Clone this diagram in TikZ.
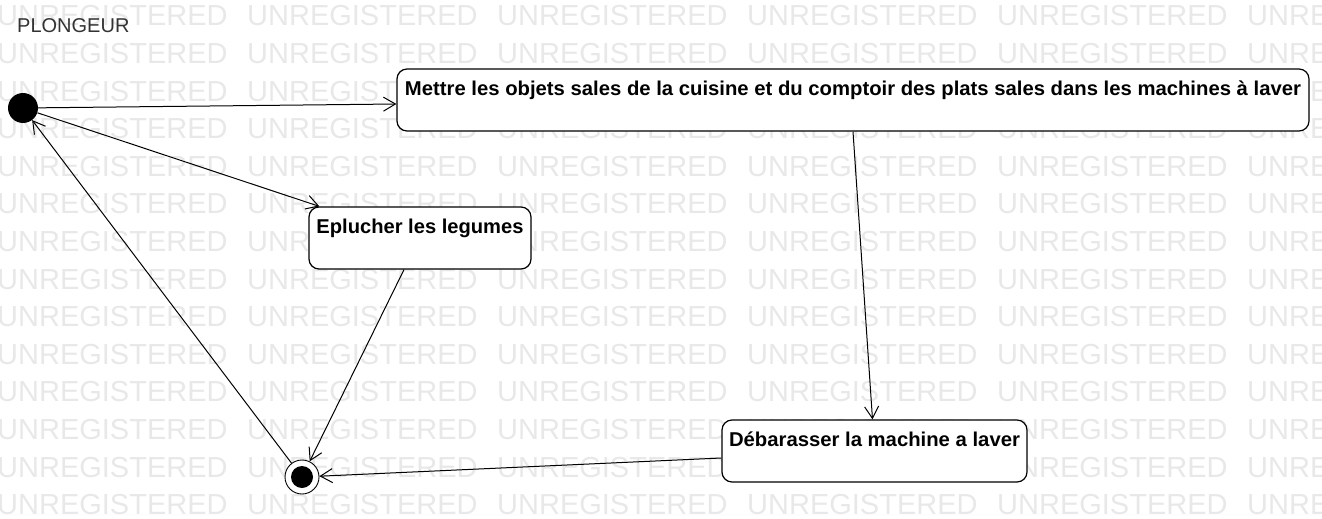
\documentclass[tikz,border=0pt]{standalone}
\usepackage{graphicx}
\usepackage{fontspec}
\setmainfont{Liberation Sans}
\usetikzlibrary{arrows.meta}

\begin{document}
\begin{tikzpicture}[x=1pt,y=-1pt,
      state/.style={draw, line width=1.2pt, rounded corners=10pt, minimum height=62pt, inner sep=0pt},
      statetext/.style={anchor=north, inner sep=0pt, font=\bfseries\fontsize{20}{24}\selectfont},
      trans/.style={line width=1pt, -{Straight Barb[length=12pt,width=14pt]}},
      wm/.style={anchor=west, inner sep=0pt, text=black!9, font=\fontsize{29}{34}\selectfont}]
      \useasboundingbox (0,0) rectangle (1322,519);
      \foreach \r in {0,...,13}
        \foreach \c in {0,...,5}
          \node [wm] (wm-\r-\c) at (-3+250*\c,16+37.6*\r) {UNREGISTERED};
      \node [anchor=west, inner sep=0pt, text=black!80, font=\fontsize{20}{24}\selectfont] (title) at (17,26) {PLONGEUR};
      \node [circle, fill=black, minimum size=30pt, inner sep=0pt] (init) at (23,108) {};
      \node [circle, draw, fill=white, line width=0.9pt, minimum size=34pt, inner sep=0pt] (final) at (302,477) {};
      \fill [black] (final) circle (11);
      \node [state, fill=white, minimum width=912pt] (mettre) at (853,100) {};
      \node [statetext] (mettre-t) at ([yshift=-12pt]mettre.north) {\resizebox{896pt}{\height}{Mettre les objets sales de la cuisine et du comptoir des plats sales dans les machines à laver}};
      \node [state, fill=white, minimum width=222pt] (eplucher) at (420,238) {};
      \node [statetext] (eplucher-t) at ([yshift=-12pt]eplucher.north) {\resizebox{207pt}{\height}{Eplucher les legumes}};
      \node [state, fill=white, minimum width=305pt] (debarasser) at (874.5,451) {};
      \node [statetext] (debarasser-t) at ([yshift=-12pt]debarasser.north) {\resizebox{291pt}{\height}{Débarasser la machine a laver}};
      \draw [trans] (init) -- ([yshift=-4pt]mettre.west);
      \draw [trans] (init) -- ([xshift=11pt]eplucher.north west);
      \draw [trans] ([xshift=-16pt]eplucher.south) -- (final);
      \draw [trans] (mettre.south) -- ([xshift=-2pt]debarasser.north);
      \draw [trans] ([yshift=-7pt]debarasser.west) -- (final);
      \draw [trans] (final) -- (init);
\end{tikzpicture}
\end{document}
